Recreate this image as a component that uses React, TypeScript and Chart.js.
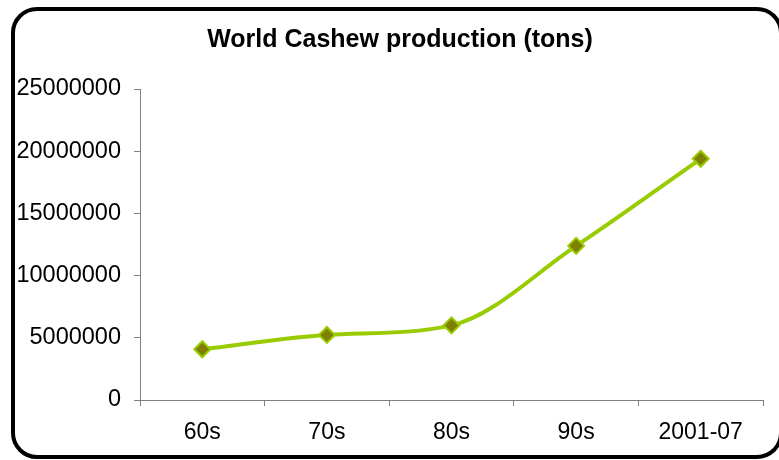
import React, { useEffect, useRef } from "react";
import { Chart, registerables } from "chart.js";

Chart.register(...registerables);

const categories = ["60s", "70s", "80s", "90s", "2001-07"];
const production = [4080000, 5230000, 6000000, 12390000, 19390000];
const yTicks = [0, 5000000, 10000000, 15000000, 20000000, 25000000];
const titleText = "World Cashew production (tons)";

const FONT = "'Liberation Sans', Arial, sans-serif";
const AXIS_GRAY = "#808080";

// Title drawn at a fixed centre above the plot
const titlePlugin = {
  id: "fixedTitle",
  afterDraw(chart: any) {
    const ctx = chart.ctx as CanvasRenderingContext2D;
    ctx.save();
    ctx.font = `bold 25px ${FONT}`;
    ctx.fillStyle = "#000";
    ctx.textAlign = "center";
    ctx.textBaseline = "middle";
    ctx.fillText(titleText, 400, 40);
    ctx.restore();
  },
};

export default function App() {
  const canvasRef = useRef<HTMLCanvasElement | null>(null);

  useEffect(() => {
    document.body.style.margin = "0";
    const canvas = canvasRef.current;
    if (!canvas) return;
    const chart = new Chart(canvas, {
      type: "line",
      data: {
        labels: categories,
        datasets: [
          {
            data: production,
            borderColor: "#99CC00",
            borderWidth: 4,
            cubicInterpolationMode: "monotone",
            pointStyle: "rectRot",
            pointRadius: 8,
            pointHoverRadius: 8,
            pointBackgroundColor: "#808000",
            pointBorderColor: "#99CC00",
            pointBorderWidth: 2,
          },
        ],
      },
      options: {
        animation: false,
        responsive: false,
        events: [],
        layout: { padding: { top: 89, right: 16, left: 0, bottom: 0 } },
        plugins: {
          legend: { display: false },
          title: { display: false },
          tooltip: { enabled: false },
        },
        scales: {
          x: {
            type: "category",
            offset: true,
            grid: {
              offset: true,
              drawOnChartArea: false,
              drawTicks: true,
              tickLength: 6,
              color: AXIS_GRAY,
            },
            border: { display: true, color: AXIS_GRAY, width: 1 },
            ticks: {
              color: "#000",
              font: { family: FONT, size: 23 },
              padding: 13,
              maxRotation: 0,
              autoSkip: false,
            },
            afterFit(scale: any) {
              scale.height = 60;
            },
          },
          y: {
            min: 0,
            max: 25000000,
            afterBuildTicks(scale: any) {
              scale.ticks = yTicks.map((v) => ({ value: v }));
            },
            grid: {
              drawOnChartArea: false,
              drawTicks: true,
              tickLength: 6,
              color: AXIS_GRAY,
            },
            border: { display: true, color: AXIS_GRAY, width: 1 },
            ticks: {
              color: "#000",
              font: { family: FONT, size: 23.5 },
              padding: 13,
              callback: (v: any) => String(v),
            },
            afterFit(scale: any) {
              scale.width = 140;
            },
          },
        },
      },
      plugins: [titlePlugin],
    });
    return () => chart.destroy();
  }, []);

  return (
    <div
      style={{
        position: "relative",
        width: 779,
        height: 460,
        overflow: "hidden",
        background: "#fff",
      }}
    >
      <canvas
        ref={canvasRef}
        width={779}
        height={460}
        style={{ position: "absolute", left: 0, top: 0 }}
      />
      <div
        style={{
          position: "absolute",
          left: 11,
          top: 7,
          width: 772,
          height: 452,
          boxSizing: "border-box",
          border: "4px solid #000",
          borderRadius: 26,
          pointerEvents: "none",
        }}
      />
    </div>
  );
}
